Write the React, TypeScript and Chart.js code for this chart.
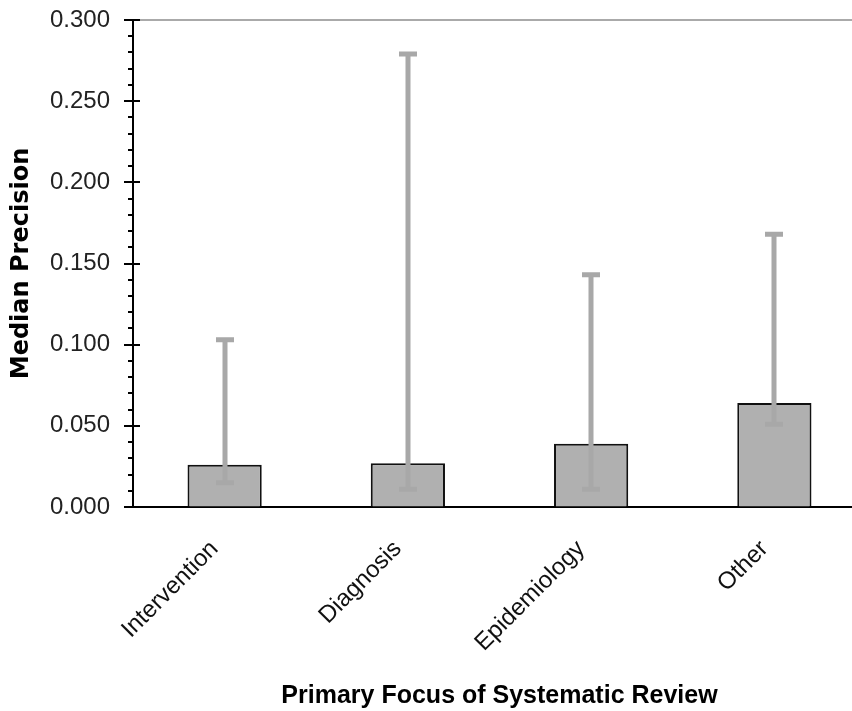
import React, { useEffect, useRef } from "react";
import { Chart, registerables } from "chart.js";

Chart.register(...registerables);

const categories = ["Intervention", "Diagnosis", "Epidemiology", "Other"];
const medianPrecision = [0.026, 0.027, 0.039, 0.064];
const errorLow = [0.015, 0.011, 0.011, 0.051];
const errorHigh = [0.103, 0.279, 0.143, 0.168];
const yTickStep = 0.05;
const yMinorStep = 0.01;
const yMax = 0.3;

const decorPlugin = {
  id: "decor",
  afterDatasetsDraw(chart: any) {
    const ctx = chart.ctx;
    const x = chart.scales.x;
    const y = chart.scales.y;
    const area = chart.chartArea;
    ctx.save();
    // top gray border
    ctx.strokeStyle = "#aaaaaa";
    ctx.lineWidth = 2;
    ctx.beginPath();
    const yt = y.getPixelForValue(yMax);
    ctx.moveTo(area.left, yt);
    ctx.lineTo(area.right, yt);
    ctx.stroke();
    // error bars
    ctx.strokeStyle = "#a8a8a8";
    ctx.lineWidth = 5;
    ctx.lineCap = "butt";
    for (let i = 0; i < categories.length; i++) {
      const cx = Math.round(x.getPixelForValue(i));
      const yh = y.getPixelForValue(errorHigh[i]);
      const yl = y.getPixelForValue(errorLow[i]);
      ctx.beginPath();
      ctx.moveTo(cx, yh);
      ctx.lineTo(cx, yl);
      ctx.stroke();
      ctx.beginPath();
      ctx.moveTo(cx - 9, yh);
      ctx.lineTo(cx + 9, yh);
      ctx.moveTo(cx - 9, yl);
      ctx.lineTo(cx + 9, yl);
      ctx.stroke();
    }
    // y axis minor ticks and major ticks crossing the axis
    ctx.strokeStyle = "#000000";
    ctx.lineWidth = 2;
    const ax = area.left;
    const nMinor = Math.round(yMax / yMinorStep);
    const per = Math.round(yTickStep / yMinorStep);
    for (let k = 0; k <= nMinor; k++) {
      const v = k * yMinorStep;
      const py = Math.round(y.getPixelForValue(v));
      ctx.beginPath();
      if (k % per === 0) {
        ctx.moveTo(ax - 9, py);
        ctx.lineTo(ax + 7, py);
      } else {
        ctx.moveTo(ax - 5, py);
        ctx.lineTo(ax, py);
      }
      ctx.stroke();
    }
    ctx.restore();
  },
};

export default function App() {
  const ref = useRef<HTMLCanvasElement | null>(null);
  useEffect(() => {
    if (!ref.current) return;
    const chart = new Chart(ref.current, {
      type: "bar",
      data: {
        labels: categories,
        datasets: [
          {
            label: "Median Precision",
            data: medianPrecision,
            backgroundColor: "#b0b0b0",
            borderColor: "#111111",
            borderWidth: 2,
            borderSkipped: "bottom",
            barPercentage: 0.405,
            categoryPercentage: 1,
          },
        ],
      },
      options: {
        responsive: false,
        animation: false,
        layout: { padding: { top: 20, right: 2, left: 0, bottom: 0 } },
        plugins: {
          legend: { display: false },
          tooltip: { enabled: false },
        },
        scales: {
          x: {
            offset: true,
            grid: { display: false },
            border: { color: "#000000", width: 2 },
            ticks: {
              minRotation: 45,
              maxRotation: 45,
              padding: 20,
              labelOffset: -10,
              color: "#111111",
              font: { family: "'Liberation Sans', Arial, sans-serif", size: 24 },
            },
            title: {
              display: true,
              text: "Primary Focus of Systematic Review",
              color: "#000000",
              padding: { top: 0, bottom: 0 },
              font: {
                family: "'Liberation Sans', Arial, sans-serif",
                size: 25,
                weight: "bold",
              },
            },
            afterFit: (s: any) => {
              s.height = 204;
            },
          },
          y: {
            min: 0,
            max: yMax,
            ticks: {
              stepSize: yTickStep,
              padding: 23,
              color: "#222222",
              font: { family: "'Liberation Sans', Arial, sans-serif", size: 24 },
              callback: (v: any) => Number(v).toFixed(3),
            },
            grid: {
              drawOnChartArea: false,
              drawTicks: false,
              tickLength: 9,
            },
            border: { color: "#000000", width: 2 },
            title: {
              display: true,
              text: "Median Precision",
              color: "#000000",
              padding: { top: 7, bottom: 0 },
              font: { family: "'DejaVu Sans', Verdana, sans-serif", size: 24, weight: "bold" },
            },
            afterFit: (s: any) => {
              s.width = 133;
              s.paddingTop = 0;
              s.paddingBottom = 0;
            },
          },
        },
      },
      plugins: [decorPlugin],
    });
    return () => chart.destroy();
  }, []);
  return (
    <div
      style={{
        position: "fixed",
        left: 0,
        top: 0,
        width: 852,
        height: 711,
        overflow: "hidden",
        background: "#ffffff",
      }}
    >
      <canvas ref={ref} width={868} height={711} style={{ display: "block" }} />
    </div>
  );
}
